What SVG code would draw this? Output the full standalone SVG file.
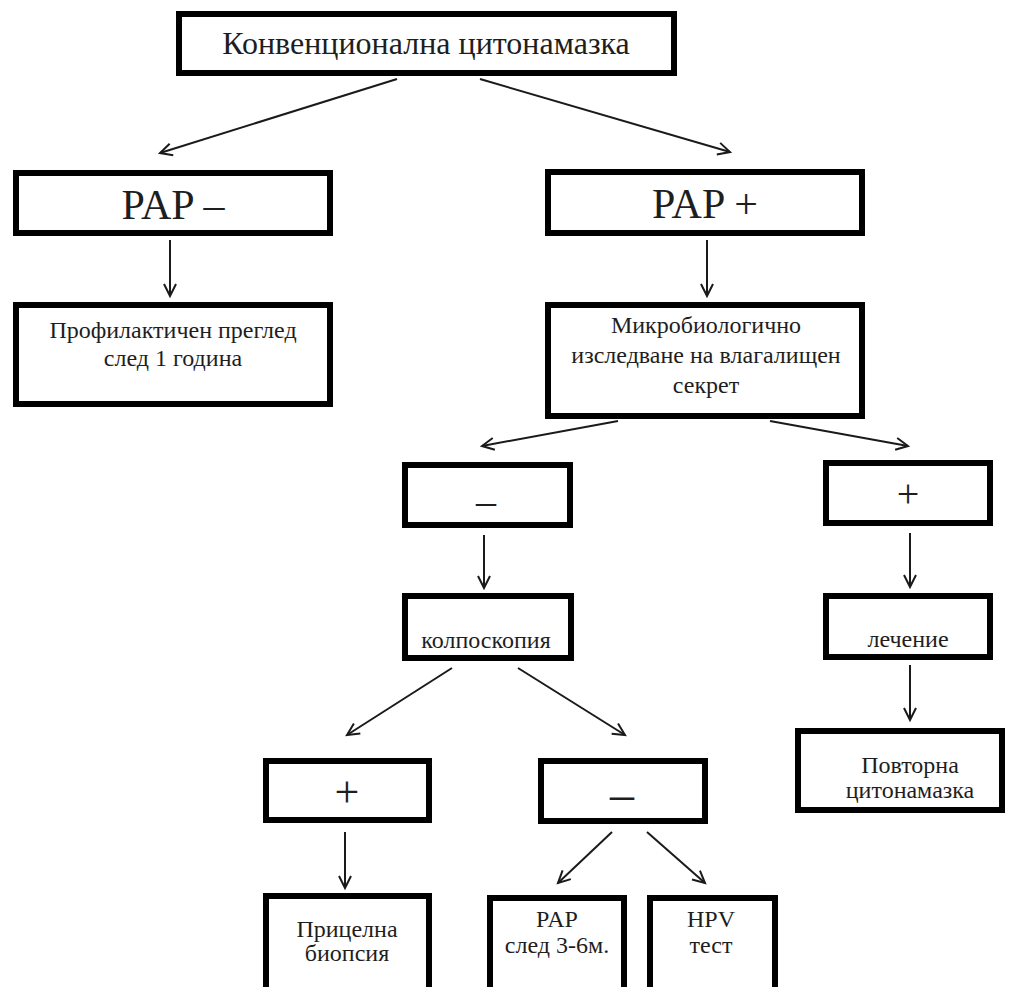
<svg xmlns="http://www.w3.org/2000/svg" width="1015" height="987" viewBox="0 0 1015 987">
<defs>
<marker id="arr" markerUnits="userSpaceOnUse" markerWidth="16" markerHeight="16" refX="13" refY="7" orient="auto" overflow="visible">
<path d="M1,1 L13,7 L1,13" fill="none" stroke="#1a1a1a" stroke-width="2"/>
</marker>
</defs>
<style>
.box{fill:#fff;stroke:#000;stroke-width:6}
.t{font-family:"Liberation Serif","Times New Roman",serif;fill:#1e1e1e;text-anchor:middle}
.s{font-size:24px}
.b{font-size:42px}
.c line{stroke:#1a1a1a;stroke-width:2;marker-end:url(#arr)}
</style>
<rect width="1015" height="987" fill="#fff"/>
<g class="c" id="connectors">
<line x1="397" y1="79" x2="160" y2="153"/>
<line x1="480" y1="79" x2="730" y2="152"/>
<line x1="170" y1="240" x2="170" y2="296"/>
<line x1="707" y1="240" x2="707" y2="296"/>
<line x1="618" y1="421" x2="482" y2="446"/>
<line x1="770" y1="421" x2="908" y2="446"/>
<line x1="484" y1="535" x2="484" y2="588"/>
<line x1="910" y1="533" x2="910" y2="587"/>
<line x1="452" y1="668" x2="347" y2="735"/>
<line x1="518" y1="668" x2="625" y2="735"/>
<line x1="910" y1="665" x2="910" y2="720"/>
<line x1="345" y1="832" x2="345" y2="888"/>
<line x1="612" y1="832" x2="558" y2="883"/>
<line x1="647" y1="832" x2="705" y2="883"/>
</g>
<g id="n-top"><rect class="box" x="179" y="14" width="495" height="59"/><text class="t" x="426" y="54" font-size="32">Конвенционална цитонамазка</text></g>
<g id="n-papneg"><rect class="box" x="16" y="173" width="314" height="60"/><text class="t b" x="173" y="219">PAP –</text></g>
<g id="n-prof"><rect class="box" x="16" y="305" width="314" height="99"/><text class="t s" x="173" y="338">Профилактичен преглед</text><text class="t s" x="173" y="366">след 1 година</text></g>
<g id="n-pappos"><rect class="box" x="548" y="172" width="314" height="61"/><text class="t b" x="705" y="218">PAP +</text></g>
<g id="n-micro"><rect class="box" x="548" y="305" width="314" height="111"/><text class="t s" x="706" y="333">Микробиологично</text><text class="t s" x="706" y="363">изследване на влагалищен</text><text class="t s" x="706" y="393">секрет</text></g>
<g id="n-mneg"><rect class="box" x="405" y="465" width="165" height="60"/><text class="t" x="486" y="514" font-size="40">–</text></g>
<g id="n-colpo"><rect class="box" x="405" y="596" width="166" height="62"/><text class="t s" x="486" y="648">колпоскопия</text></g>
<g id="n-mpos"><rect class="box" x="826" y="463" width="164" height="60"/><text class="t" x="908" y="507" font-size="40">+</text></g>
<g id="n-treat"><rect class="box" x="826" y="596" width="164" height="61"/><text class="t s" x="908" y="647">лечение</text></g>
<g id="n-repeat"><rect class="box" x="798" y="731" width="204" height="79"/><text class="t s" x="910" y="773">Повторна</text><text class="t s" x="910" y="798">цитонамазка</text></g>
<g id="n-cpos"><rect class="box" x="266" y="761" width="163" height="59"/><text class="t" x="347" y="807" font-size="44">+</text></g>
<g id="n-cneg"><rect class="box" x="541" y="761" width="164" height="60"/><text class="t" x="622" y="810" font-size="48">–</text></g>
<g id="n-biopsy"><rect class="box" x="266" y="896" width="163" height="120"/><text class="t s" x="347" y="937">Прицелна</text><text class="t s" x="347" y="961">биопсия</text></g>
<g id="n-pap36"><rect class="box" x="490" y="898" width="134" height="120"/><text class="t s" x="557" y="927">PAP</text><text class="t s" x="557" y="953">след 3-6м.</text></g>
<g id="n-hpv"><rect class="box" x="650" y="898" width="125" height="120"/><text class="t s" x="711" y="927">HPV</text><text class="t s" x="711" y="953">тест</text></g>
</svg>
